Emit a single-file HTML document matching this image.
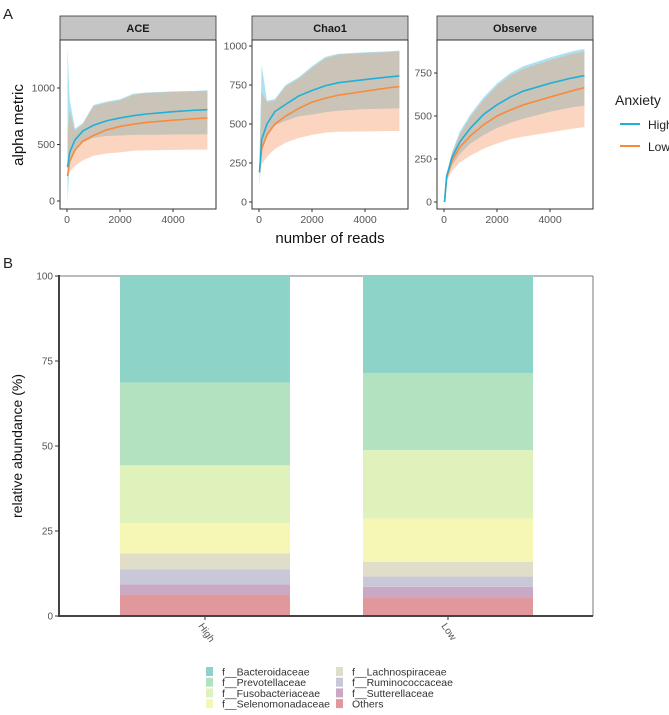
<!DOCTYPE html>
<html><head><meta charset="utf-8"><style>
body{margin:0;background:#fff;font-family:"Liberation Sans",Arial,sans-serif}
svg text{font-family:"Liberation Sans",Arial,sans-serif}
</style></head><body>
<svg id="c" width="669" height="710" viewBox="0 0 669 710" xmlns="http://www.w3.org/2000/svg">
<text x="3" y="19" font-size="15" fill="#222">A</text>
<text x="3" y="268" font-size="15" fill="#222">B</text>
<text transform="translate(23,125) rotate(-90)" text-anchor="middle" font-size="15" fill="#111">alpha metric</text>
<text x="330" y="243" text-anchor="middle" font-size="15" fill="#111">number of reads</text>
<text x="615" y="105" font-size="14" fill="#222">Anxiety</text>
<line x1="620" y1="124" x2="640" y2="124" stroke="#1fb0d8" stroke-width="2"/>
<text x="648" y="129" font-size="12" fill="#222">High</text>
<line x1="620" y1="146" x2="640" y2="146" stroke="#f98a3c" stroke-width="2"/>
<text x="648" y="151" font-size="12" fill="#222">Low</text>
<text transform="translate(22,446) rotate(-90)" text-anchor="middle" font-size="14" fill="#111">relative abundance (%)</text>
</svg>
<script>
// ---------- Panel A data ----------
const reads = [20,100,300,600,1000,1500,2000,2500,3000,4000,4800,5300];
const aceHigh = [300,430,540,620,670,710,735,755,770,790,803,808];
const aceLow = [220,350,450,530,580,630,660,680,695,715,728,735];
const aceHighUp = [1350,900,640,690,850,880,900,950,960,970,975,980];
const aceHighLo = [0,330,450,520,560,575,580,585,585,588,590,590];
const aceLowUp = [600,800,620,680,840,870,890,940,955,965,970,975];
const aceLowLo = [220,260,310,360,400,420,430,445,448,452,455,455];
const chaoHigh = [190,400,500,580,625,680,715,745,765,785,800,808];
const chaoLow = [190,340,430,500,550,600,640,665,685,710,730,740];
const chaoHighUp = [300,880,650,660,750,800,870,930,950,960,965,970];
const chaoHighLo = [100,340,440,490,520,550,560,575,585,595,598,600];
const chaoLowUp = [280,700,640,650,740,790,860,920,945,955,960,965];
const chaoLowLo = [190,240,290,340,380,410,430,445,450,452,455,455];
const obsHigh = [0,150,260,350,430,510,565,610,645,690,720,735];
const obsLow = [0,140,240,320,385,450,500,535,565,610,645,665];
const obsHighUp = [0,160,290,410,510,610,690,750,790,840,875,890];
const obsHighLo = [0,130,210,280,340,390,430,460,485,525,550,560];
const obsLowUp = [0,155,280,395,495,595,675,735,775,825,860,875];
const obsLowLo = [0,120,180,230,270,310,340,365,380,405,425,435];
const xTicks = [0,2000,4000];
const aceTicks = [0,500,1000];
const chaoTicks = [0,250,500,750,1000];
const obsTicks = [0,250,500,750];
// ---------- Panel B data ----------
const groups = ["High","Low"];
const families = ["Others","f__Sutterellaceae","f__Ruminococcaceae","f__Lachnospiraceae","f__Selenomonadaceae","f__Fusobacteriaceae","f__Prevotellaceae","f__Bacteroidaceae"];
const highValues = [6.3,3.0,4.4,4.7,8.9,17.0,24.4,31.3];
const lowValues = [5.3,3.3,3.0,4.3,12.8,20.1,22.6,28.6];
const pctTicks = [0,25,50,75,100];

const NS="http://www.w3.org/2000/svg";
const svg=document.getElementById('c');
function mk(tag,attrs,parent){const e=document.createElementNS(NS,tag);for(const k in attrs)e.setAttribute(k,attrs[k]);(parent||svg).appendChild(e);return e;}

const panels=[
 {name:'ace',title:'ACE',left:60,right:216,y0:201,perUnit:56.5/500,mean:[aceHigh,aceLow],up:[aceHighUp,aceLowUp],lo:[aceHighLo,aceLowLo],ticks:aceTicks},
 {name:'chao1',title:'Chao1',left:252,right:408,y0:202,perUnit:156/1000,mean:[chaoHigh,chaoLow],up:[chaoHighUp,chaoLowUp],lo:[chaoHighLo,chaoLowLo],ticks:chaoTicks},
 {name:'observe',title:'Observe',left:437,right:593,y0:202,perUnit:43/250,mean:[obsHigh,obsLow],up:[obsHighUp,obsLowUp],lo:[obsHighLo,obsLowLo],ticks:obsTicks}
];
const lineCols=['#1fb0d8','#f98a3c'];
const fillCols=['rgb(172,226,240)','rgba(248,150,100,0.4)'];
panels.forEach(p=>{
  const x0=p.left+7, xPer=(106/4000);
  const sx=v=>x0+v*xPer, sy=v=>p.y0-v*p.perUnit;
  const strip=mk('rect',{x:p.left,y:16,width:p.right-p.left,height:24,fill:'#c4c4c4',stroke:'#333','stroke-width':0.8});
  
  
  const st=mk('text',{x:(p.left+p.right)/2,y:32,'text-anchor':'middle','font-size':11,'font-weight':'bold',fill:'#1a1a1a'});
  st.textContent=p.title;
  
  
  [0,1].forEach(g=>{
    let d='M'+reads.map((r,i)=>sx(r)+','+sy(p.up[g][i])).join('L');
    d+='L'+reads.slice().reverse().map((r,j)=>{const i=reads.length-1-j;return sx(r)+','+sy(p.lo[g][i]);}).join('L')+'Z';
    const rb=mk('path',{d:d,fill:fillCols[g]});
    
    
  });
  [1,0].forEach(g=>{
    const ln=mk('path',{d:'M'+reads.map((r,i)=>sx(r)+','+sy(p.mean[g][i])).join('L'),fill:'none',stroke:lineCols[g],'stroke-width':1.6});
    
    
  });
  const fr=mk('rect',{x:p.left,y:40,width:p.right-p.left,height:169,fill:'none',stroke:'#333','stroke-width':1});
  
  
  p.ticks.forEach(t=>{
    mk('line',{x1:p.left-3,x2:p.left,y1:sy(t),y2:sy(t),stroke:'#333'});
    const tl=mk('text',{x:p.left-5,y:sy(t)+3.5,'text-anchor':'end','font-size':10.5,fill:'#555'});
    tl.textContent=t;
    
    
  });
  xTicks.forEach(t=>{
    mk('line',{x1:sx(t),x2:sx(t),y1:209,y2:212,stroke:'#333'});
    const tl=mk('text',{x:sx(t),y:223,'text-anchor':'middle','font-size':10.5,fill:'#555'});
    tl.textContent=t;
    
    
  });
});

// ---------- Panel B ----------
const colors=['#e0989d','#c9a9c4','#c9c8d8','#e0dec8','#f6f7b5','#e0f2bc','#b3e2c0','#8dd3c7'];
const bL=59,bR=593,bTop=276,bBot=616;
const py=v=>bBot-(v/100)*(bBot-bTop);
const bandX=i=>120+i*243, bw=170;
mk('line',{x1:bL,y1:bTop,x2:bR,y2:bTop,stroke:'#777','stroke-width':1});
mk('line',{x1:bR,y1:bTop,x2:bR,y2:bBot,stroke:'#777','stroke-width':1});
[highValues,lowValues].forEach((vals,gi)=>{
  let cum=0;
  vals.forEach((v,k)=>{
    const r=mk('rect',{x:bandX(gi),y:py(cum+v),width:bw,height:py(cum)-py(cum+v),fill:colors[k]});
    
    
    cum+=v;
  });
  const cx=bandX(gi)+bw/2;
  mk('line',{x1:cx,x2:cx,y1:bBot,y2:bBot+4,stroke:'#333'});
  const tl=mk('text',{transform:'translate('+(cx-7)+','+(bBot+10)+') rotate(55)','font-size':10,fill:'#555'});
  tl.textContent=groups[gi];
  
  
});
mk('line',{x1:bL,y1:bTop-1,x2:bL,y2:bBot+1,stroke:'#444','stroke-width':2});
mk('line',{x1:bL-1,y1:bBot,x2:bR,y2:bBot,stroke:'#444','stroke-width':2});
pctTicks.forEach(t=>{
  mk('line',{x1:bL-4,x2:bL,y1:py(t),y2:py(t),stroke:'#333'});
  const tl=mk('text',{x:bL-6,y:py(t)+3.5,'text-anchor':'end','font-size':10,fill:'#555'});
  tl.textContent=t;
  
  
});
const legOrder=families.slice().reverse();
legOrder.forEach((f,i)=>{
  const col=i<4?0:1,row=i%4;
  const x=col?336:206,y=667+row*10.7;
  const sq=mk('rect',{x:x,y:y,width:7,height:9,fill:colors[families.indexOf(f)]});
  
  
  const tx=mk('text',{x:x+16,y:y+8.5,'font-size':10.5,fill:'#333'});
  tx.textContent=f;
  
  
});
</script>
</body></html>
